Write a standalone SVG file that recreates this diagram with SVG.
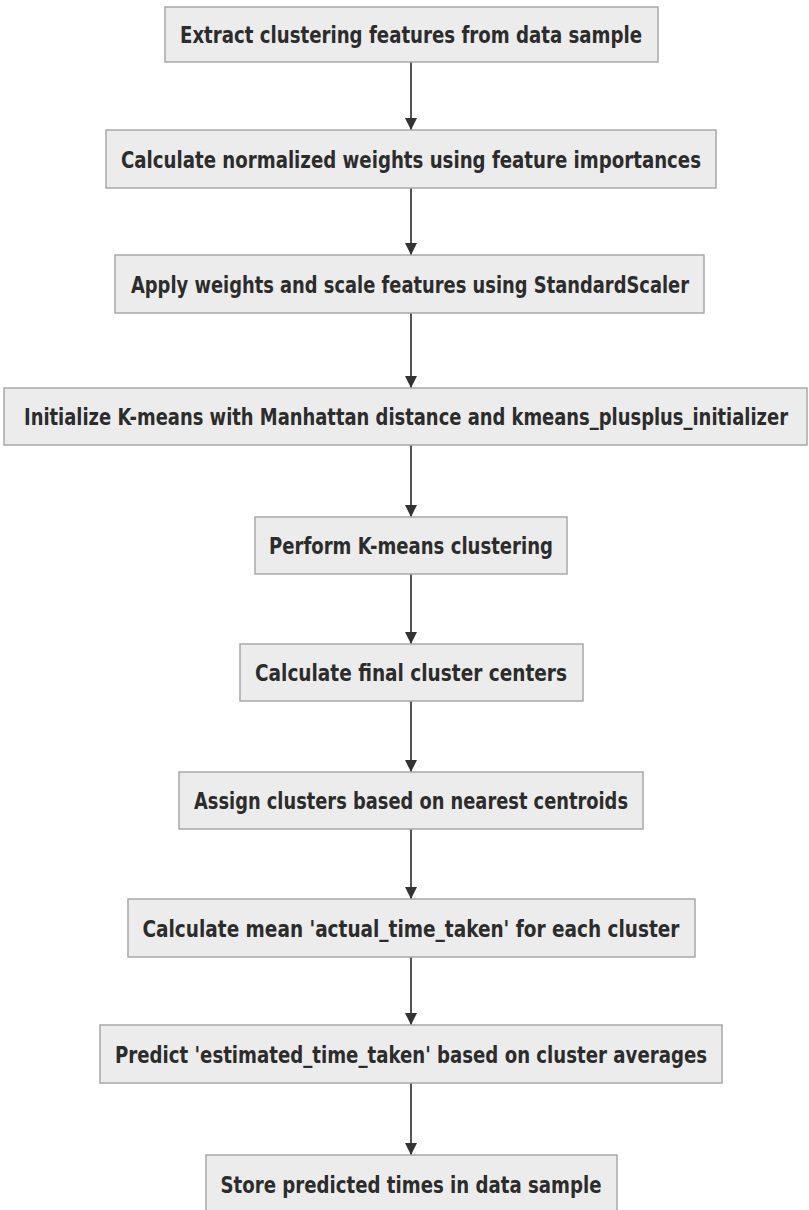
<svg xmlns="http://www.w3.org/2000/svg" width="809" height="1210" viewBox="0 0 809 1210">
<style>
.n rect{fill:#ececec;stroke:#a8a8a8;stroke-width:1.5}
.n text{font-family:"DejaVu Sans Condensed","DejaVu Sans",sans-serif;font-size:23px;font-weight:bold;fill:#2c2c2c;text-anchor:middle}
.e{stroke:#555;stroke-width:2;fill:none;marker-end:url(#ah)}
</style>
<defs>
<marker id="ah" viewBox="0 0 10 10" refX="10" refY="5" markerWidth="6" markerHeight="6" markerUnits="strokeWidth" orient="auto">
<path d="M0,0 L10,5 L0,10 z" fill="#333"/>
</marker>
</defs>
<rect width="809" height="1210" fill="#fff"/>
<g id="connectors">
<path class="e" d="M411,62 V130"/>
<path class="e" d="M411,188 V255"/>
<path class="e" d="M411,313 V388"/>
<path class="e" d="M411,445 V517"/>
<path class="e" d="M411,574 V644"/>
<path class="e" d="M411,701 V772"/>
<path class="e" d="M411,829 V899"/>
<path class="e" d="M411,957 V1025"/>
<path class="e" d="M411,1083 V1155"/>
</g>
<g id="n1" class="n"><rect x="165" y="7" width="493" height="55"/><text x="411" y="43" textLength="462" lengthAdjust="spacingAndGlyphs">Extract clustering features from data sample</text></g>
<g id="n2" class="n"><rect x="106" y="130" width="610" height="58"/><text x="411" y="168" textLength="580" lengthAdjust="spacingAndGlyphs">Calculate normalized weights using feature importances</text></g>
<g id="n3" class="n"><rect x="115" y="255" width="589" height="58"/><text x="410" y="293" textLength="558" lengthAdjust="spacingAndGlyphs">Apply weights and scale features using StandardScaler</text></g>
<g id="n4" class="n"><rect x="4" y="388" width="803" height="57"/><text x="406" y="425" textLength="764" lengthAdjust="spacingAndGlyphs">Initialize K-means with Manhattan distance and kmeans_plusplus_initializer</text></g>
<g id="n5" class="n"><rect x="255" y="517" width="312" height="57"/><text x="411" y="554" textLength="284" lengthAdjust="spacingAndGlyphs">Perform K-means clustering</text></g>
<g id="n6" class="n"><rect x="240" y="644" width="343" height="57"/><text x="411" y="681" textLength="312" lengthAdjust="spacingAndGlyphs">Calculate final cluster centers</text></g>
<g id="n7" class="n"><rect x="179" y="772" width="464" height="57"/><text x="411" y="809" textLength="434" lengthAdjust="spacingAndGlyphs">Assign clusters based on nearest centroids</text></g>
<g id="n8" class="n"><rect x="128" y="899" width="567" height="58"/><text x="411" y="937" textLength="537" lengthAdjust="spacingAndGlyphs">Calculate mean 'actual_time_taken' for each cluster</text></g>
<g id="n9" class="n"><rect x="100" y="1025" width="622" height="58"/><text x="411" y="1063" textLength="592" lengthAdjust="spacingAndGlyphs">Predict 'estimated_time_taken' based on cluster averages</text></g>
<g id="n10" class="n"><rect x="206" y="1155" width="411" height="60"/><text x="411" y="1193" textLength="381" lengthAdjust="spacingAndGlyphs">Store predicted times in data sample</text></g>
</svg>
